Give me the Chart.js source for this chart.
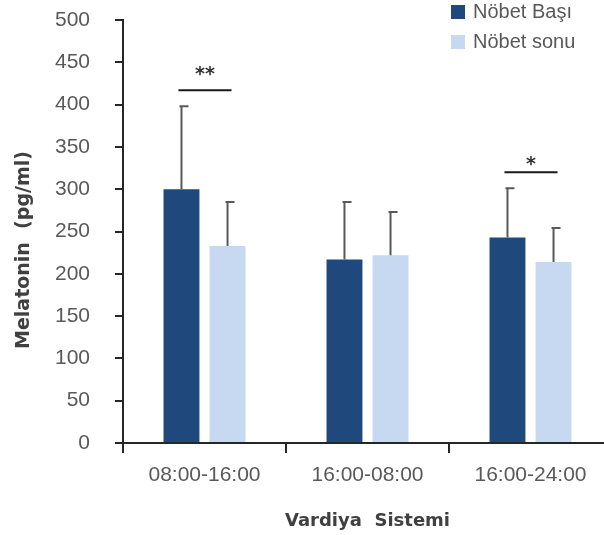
<!DOCTYPE html>
<html>
<head>
<meta charset="utf-8">
<script src="https://cdn.jsdelivr.net/npm/chart.js@4.4.1/dist/chart.umd.min.js"></script>
<style>
    html, body { margin: 0; padding: 0; background: #fff; overflow: hidden; }
    #wrap { width: 615px; height: 535px; }
</style>
</head>
<body>
<div id="wrap"><canvas id="chart"></canvas></div>
<script>
// Chart data
const shifts = ['08:00-16:00', '16:00-08:00', '16:00-24:00'];
const seriesNames = ['Nöbet Başı', 'Nöbet sonu'];
const startValues = [300, 217, 243];
const endValues = [233, 222, 214];
const startErrors = [98, 68, 58];
const endErrors = [52, 51, 40];
const yTicks = [0, 50, 100, 150, 200, 250, 300, 350, 400, 450, 500];

// Significance marks per shift (line level, star level, label)
const sigLabels = ['**', '', '*'];
const sigLineLevels = [417, null, 320];
const sigStarLevels = [441, null, 334];

const colors = ['#1F497D', '#C6D9F1'];
const errors = [startErrors, endErrors];

// Error bars, significance lines, legend and axis titles
const extras = {
    id: 'extras',
    afterDatasetsDraw(chart) {
        const ctx = chart.ctx;
        const y = chart.scales.y;
        const area = chart.chartArea;
        ctx.save();

        // error bars
        ctx.strokeStyle = '#595959';
        ctx.lineWidth = 2;
        chart.data.datasets.forEach((ds, i) => {
            const meta = chart.getDatasetMeta(i);
            meta.data.forEach((bar, j) => {
                const top = y.getPixelForValue(ds.data[j] + errors[i][j]);
                ctx.beginPath();
                ctx.moveTo(bar.x, bar.y);
                ctx.lineTo(bar.x, top);
                ctx.moveTo(bar.x - 2, top);
                ctx.lineTo(bar.x + 7, top);
                ctx.stroke();
            });
        });

        // significance lines
        const m0 = chart.getDatasetMeta(0);
        const m1 = chart.getDatasetMeta(1);
        ctx.strokeStyle = '#1a1a1a';
        ctx.fillStyle = '#333';
        ctx.font = 'bold 19px "DejaVu Sans"';
        ctx.textAlign = 'center';
        ctx.textBaseline = 'alphabetic';
        sigLineLevels.forEach((lvl, j) => {
            if (lvl === null) return;
            const x1 = m0.data[j].x - 3;
            const x2 = m1.data[j].x + 4;
            const ly = y.getPixelForValue(lvl);
            ctx.beginPath();
            ctx.moveTo(x1, ly);
            ctx.lineTo(x2, ly);
            ctx.stroke();
            ctx.fillText(sigLabels[j], (x1 + x2) / 2, y.getPixelForValue(sigStarLevels[j]) + 10);
        });

        // legend
        ctx.textAlign = 'left';
        ctx.textBaseline = 'middle';
        ctx.font = '20px "Liberation Sans"';
        seriesNames.forEach((name, i) => {
            const top = 5 + i * 30;
            ctx.fillStyle = colors[i];
            ctx.fillRect(451, top, 14, 14);
            ctx.fillStyle = '#595959';
            ctx.fillText(name, 473, top + 7);
        });

        // axis titles
        ctx.fillStyle = '#404040';
        ctx.textAlign = 'center';
        ctx.font = 'bold 18px "DejaVu Sans"';
        ctx.fillText('Vardiya  Sistemi', (area.left + area.right) / 2, 521);
        ctx.save();
        ctx.translate(24, 250);
        ctx.rotate(-Math.PI / 2);
        ctx.font = 'bold 19px "DejaVu Sans"';
        ctx.fillText('Melatonin  (pg/ml)', 0, 0);
        ctx.restore();

        ctx.restore();
    }
};

new Chart(document.getElementById('chart'), {
    type: 'bar',
    data: {
        labels: shifts,
        datasets: [
            { label: seriesNames[0], data: startValues, backgroundColor: colors[0] },
            { label: seriesNames[1], data: endValues, backgroundColor: colors[1] }
        ]
    },
    options: {
        responsive: true,
        maintainAspectRatio: false,
        animation: false,
        layout: { padding: { top: 20, right: 3, left: 0, bottom: 0 } },
        datasets: { bar: { categoryPercentage: 0.565, barPercentage: 0.78 } },
        plugins: {
            legend: { display: false },
            tooltip: { enabled: false }
        },
        scales: {
            x: {
                afterFit: s => { s.height = 92; s.paddingLeft = 0; s.paddingRight = 0; },
                border: { color: '#262626', width: 2 },
                grid: { drawOnChartArea: false, color: '#262626', lineWidth: 2, tickLength: 10 },
                ticks: { color: '#595959', font: { family: 'Liberation Sans', size: 21 }, padding: 10 }
            },
            y: {
                min: 0,
                max: 500,
                afterFit: s => { s.width = 123; s.paddingTop = 0; s.paddingBottom = 0; },
                afterBuildTicks: s => { s.ticks = yTicks.map(v => ({ value: v })); },
                border: { color: '#262626', width: 2 },
                grid: { drawOnChartArea: false, color: '#262626', lineWidth: 2, tickLength: 8 },
                ticks: { color: '#595959', font: { family: 'Liberation Sans', size: 21 }, padding: 25 }
            }
        }
    },
    plugins: [extras]
});
</script>
</body>
</html>
